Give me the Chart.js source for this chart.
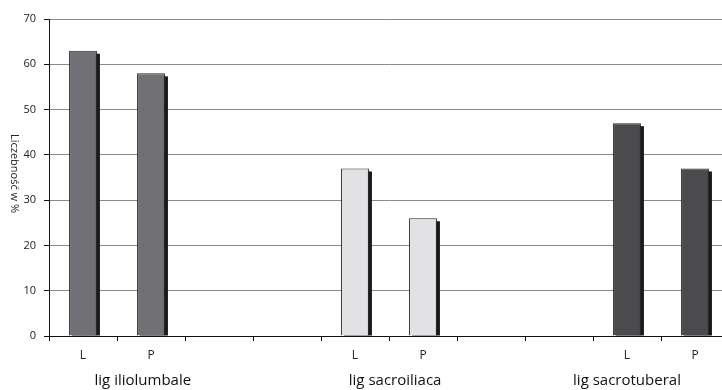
<!DOCTYPE html>
<html>
<head>
<meta charset="utf-8">
<script src="https://cdn.jsdelivr.net/npm/chart.js@4.4.1/dist/chart.umd.min.js"></script>
<style>
  html, body { margin: 0; padding: 0; background: #fff; overflow: hidden; }
  #wrap { width: 740px; height: 390px; }
</style>
</head>
<body>
<div id="wrap"><canvas id="myChart" width="740" height="390"></canvas></div>
<script>
// dane wykresu
var kategorie = ['L', 'P', '', '', 'L', 'P', '', '', 'L', 'P']
var iliolumbale = [63, 58, null, null, null, null, null, null, null, null]
var sacroiliaca = [null, null, null, null, 37, 26, null, null, null, null]
var sacrotuberal = [null, null, null, null, null, null, null, null, 47, 37]
var grupy = ['lig iliolumbale', 'lig sacroiliaca', 'lig sacrotuberal']
var grupyPozycja = [0.88, 4.59, 8.0]
var ticksY = [0, 10, 20, 30, 40, 50, 60, 70]
var tytulY = 'Liczebność w %'

const font = "'Open Sans', 'DejaVu Sans', sans-serif"

// cień pod słupkami (z pozycji elementów)
const cien = {
    id: 'cien',
    beforeDatasetsDraw(chart) {
        const c = chart.ctx
        c.save()
        c.fillStyle = '#1a1a1a'
        chart.data.datasets.forEach((ds, i) => {
            chart.getDatasetMeta(i).data.forEach((bar, j) => {
                if (ds.data[j] == null) return
                const p = bar.getProps(['x', 'y', 'base', 'width'], true)
                c.fillRect(p.x - p.width / 2 + 3, p.y + 3, p.width, p.base - p.y - 3)
            })
        })
        c.restore()
    }
}

// tytuł osi Y i nazwy grup
const opisy = {
    id: 'opisy',
    afterDraw(chart) {
        const c = chart.ctx
        const area = chart.chartArea
        const x = chart.scales.x
        c.save()
        c.fillStyle = '#222'
        c.font = '11px ' + font
        c.textAlign = 'center'
        c.textBaseline = 'middle'
        c.translate(14, (area.top + area.bottom) / 2 - 4)
        c.rotate(Math.PI / 2)
        c.fillText(tytulY, 0, 0)
        c.restore()

        c.save()
        c.fillStyle = '#111'
        c.font = '15px ' + font
        c.textAlign = 'center'
        c.textBaseline = 'middle'
        for (var i = 0; i < grupy.length; i++) {
            c.fillText(grupy[i], x.getPixelForValue(grupyPozycja[i]), 381)
        }
        c.restore()
    }
}

const ctx = document.getElementById('myChart')

var wykres = new Chart(ctx, {
    type: 'bar',
    data: {
        labels: kategorie,
        datasets: [{
            label: grupy[0],
            data: iliolumbale,
            backgroundColor: '#707075',
            borderColor: '#2a2a2a',
            borderWidth: 1
        }, {
            label: grupy[1],
            data: sacroiliaca,
            backgroundColor: '#e2e2e4',
            borderColor: '#2a2a2a',
            borderWidth: 1
        }, {
            label: grupy[2],
            data: sacrotuberal,
            backgroundColor: '#4b4b4e',
            borderColor: '#2a2a2a',
            borderWidth: 1
        }]
    },
    plugins: [cien, opisy],
    options: {
        responsive: false,
        animation: false,
        grouped: false,
        barPercentage: 0.41,
        categoryPercentage: 1,
        layout: { padding: { left: 0, right: 11, top: 19, bottom: 0 } },
        plugins: {
            legend: { display: false },
            tooltip: { enabled: false }
        },
        scales: {
            x: {
                offset: true,
                grid: {
                    offset: true,
                    drawOnChartArea: false,
                    drawTicks: true,
                    tickLength: 5,
                    color: '#111'
                },
                border: { color: '#111', width: 1 },
                ticks: {
                    color: '#222',
                    padding: 7,
                    maxRotation: 0,
                    autoSkip: false,
                    font: { family: font, size: 12 }
                },
                afterFit(scale) { scale.height = 54 }
            },
            y: {
                min: 0,
                max: 70,
                afterBuildTicks(scale) {
                    scale.ticks = ticksY.map(v => ({ value: v }))
                },
                grid: {
                    color: '#8a8a8a',
                    tickColor: '#111',
                    tickLength: 5,
                    lineWidth: 1
                },
                border: { color: '#111', width: 1 },
                ticks: {
                    color: '#222',
                    padding: 8,
                    font: { family: font, size: 11 }
                },
                afterFit(scale) { scale.width = 49 }
            }
        }
    }
})
</script>
</body>
</html>
